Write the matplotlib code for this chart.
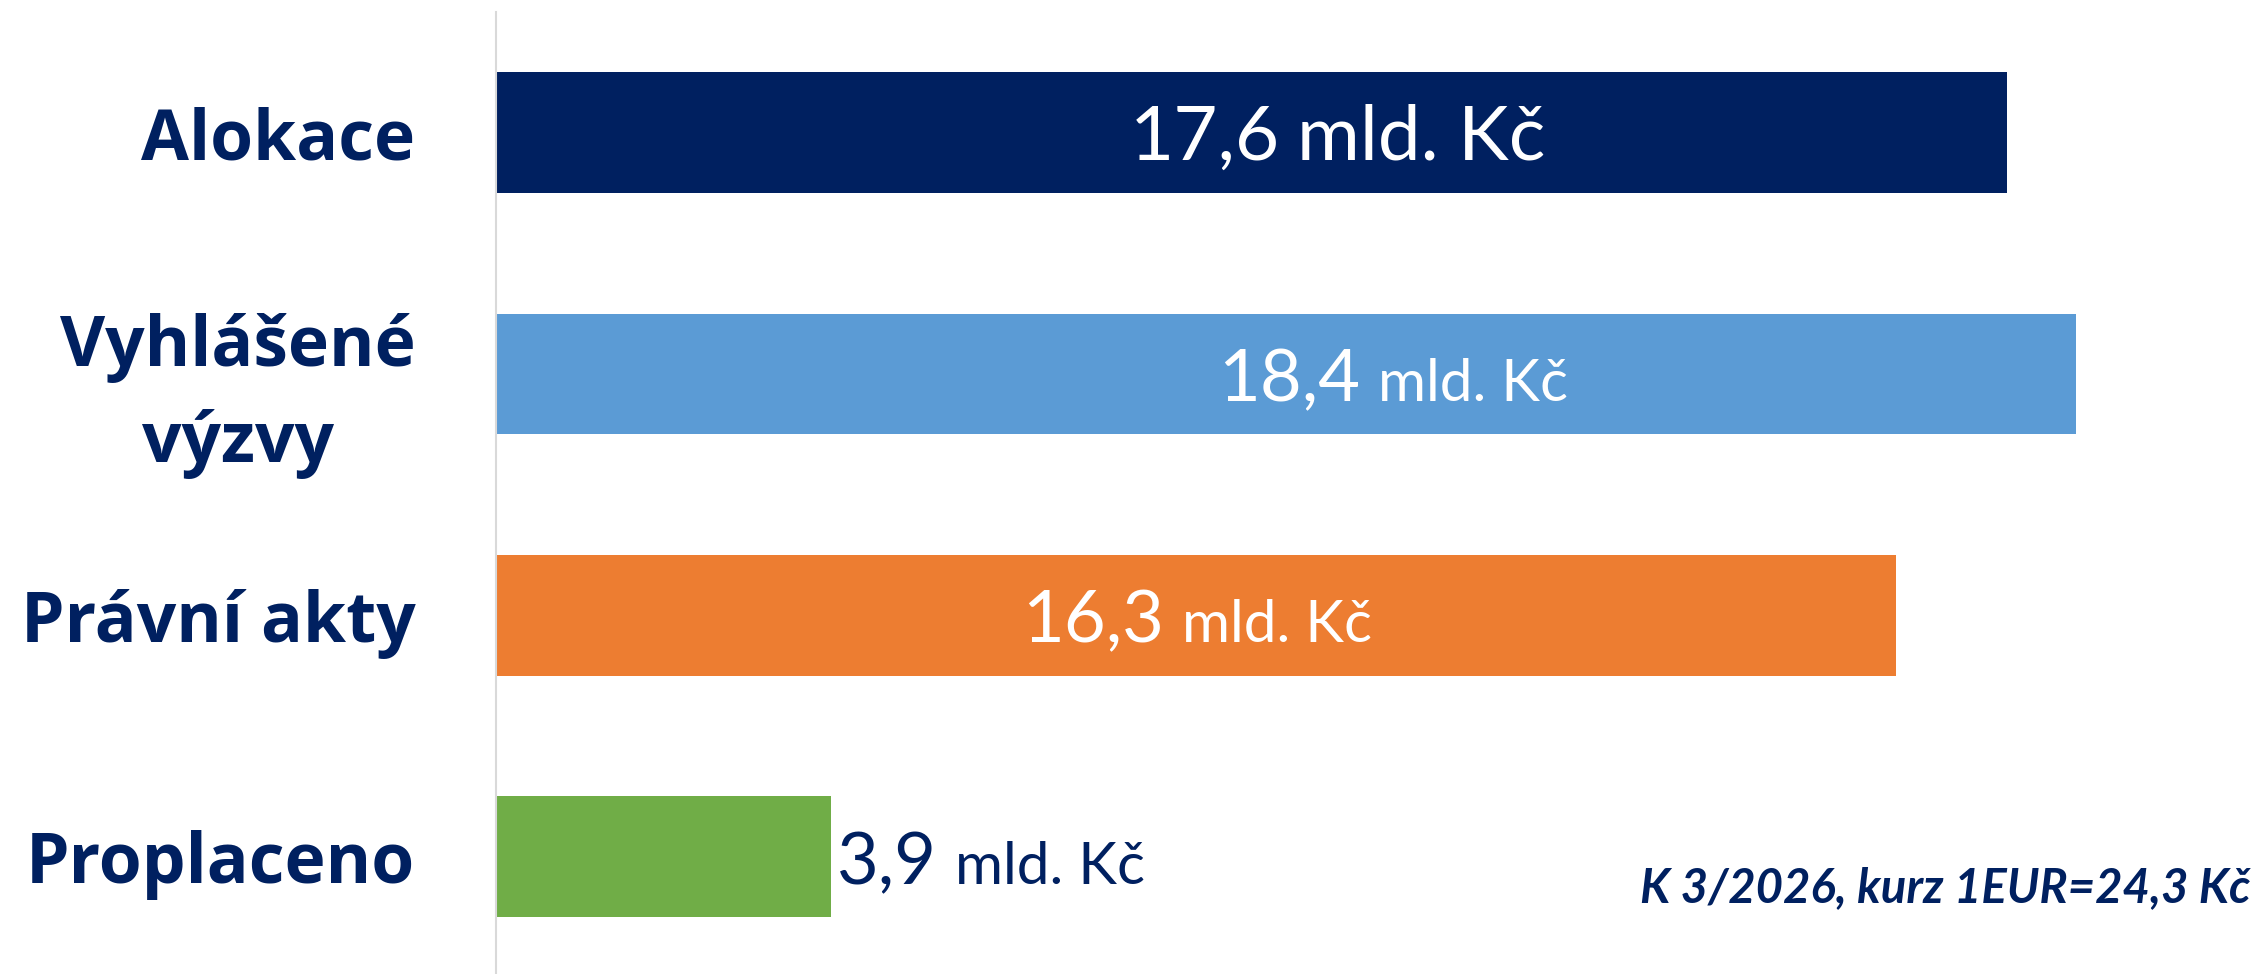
import matplotlib
matplotlib.use("Agg")
import matplotlib.pyplot as plt

# ---- data ----
categories = ["Alokace", "Vyhlášené\nvýzvy", "Právní akty", "Proplaceno"]
values = [17.6, 18.4, 16.3, 3.9]
value_numbers = ["17,6", "18,4", "16,3", "3,9"]
value_units = ["mld. Kč", "mld. Kč", "mld. Kč", "mld. Kč"]
footnote = "K 3/2026, kurz 1EUR=24,3 Kč"

# ---- style ----
NAVY = "#002060"
bar_colors = ["#002060", "#5B9BD5", "#ED7D31", "#70AD47"]
label_colors = ["white", "white", "white", NAVY]
num_sizes = [55, 52, 52, 52]
unit_sizes = [55, 42, 42, 42]
unit_gaps = [17, 18, 18, 18]          # px between number and unit
center_frac = [0.557, 0.568, 0.501, None]   # label centre as fraction of bar length; None -> outside end
DPI = 100
W, H = 2257, 974

fig = plt.figure(figsize=(W / DPI, H / DPI), dpi=DPI)
fig.patch.set_facecolor("white")
ax_left = 496 / W
ax_bottom = 1 - 977.5 / H
ax_height = (977.5 - 12) / H
ax = fig.add_axes([ax_left, ax_bottom, 1 - ax_left, ax_height])

ypos = list(range(len(categories)))
ax.barh(ypos, values, height=0.5, color=bar_colors, zorder=2)
ax.set_xlim(0, 20.51)
ax.set_ylim(len(categories) - 0.5, -0.5)

for s in ["top", "right", "bottom"]:
    ax.spines[s].set_visible(False)
ax.spines["left"].set_color("#d9d9d9")
ax.spines["left"].set_linewidth(1.5)
ax.set_xticks([])
ax.set_yticks(ypos)
ax.set_yticklabels(categories)
ax.tick_params(axis="y", length=0, pad=58)
for lab in ax.get_yticklabels():
    lab.set_fontfamily("Open Sans")
    lab.set_fontweight("bold")
    lab.set_fontsize(50)
    lab.set_color(NAVY)
    lab.set_multialignment("center")
    lab.set_linespacing(1.5)

fig.canvas.draw()
renderer = fig.canvas.get_renderer()

BASE_OFF = -27  # px from bar centre to baseline
for i, v in enumerate(values):
    t1 = ax.annotate(value_numbers[i], xy=(v, i), xytext=(0, BASE_OFF),
                     textcoords="offset pixels", ha="left", va="baseline",
                     fontsize=num_sizes[i], family="Lato", color=label_colors[i], zorder=3)
    t2 = ax.annotate(value_units[i], xy=(v, i), xytext=(0, BASE_OFF),
                     textcoords="offset pixels", ha="left", va="baseline",
                     fontsize=unit_sizes[i], family="Lato", color=label_colors[i], zorder=3)
    w1 = t1.get_window_extent(renderer).width
    w2 = t2.get_window_extent(renderer).width
    total = w1 + unit_gaps[i] + w2
    if center_frac[i] is not None:
        x = v * center_frac[i]
        start = -total / 2
    else:
        x = v
        start = 6
    t1.xy = (x, i)
    t2.xy = (x, i)
    t1.set_position((start, BASE_OFF))
    t2.set_position((start + w1 + unit_gaps[i], BASE_OFF))

fig.text(2250 / W, 1 - 902 / H, footnote, ha="right", va="baseline",
         fontsize=34, family="Lato", fontweight="bold", fontstyle="italic", color=NAVY)

fig.savefig("out.png", dpi=DPI, facecolor="white")
